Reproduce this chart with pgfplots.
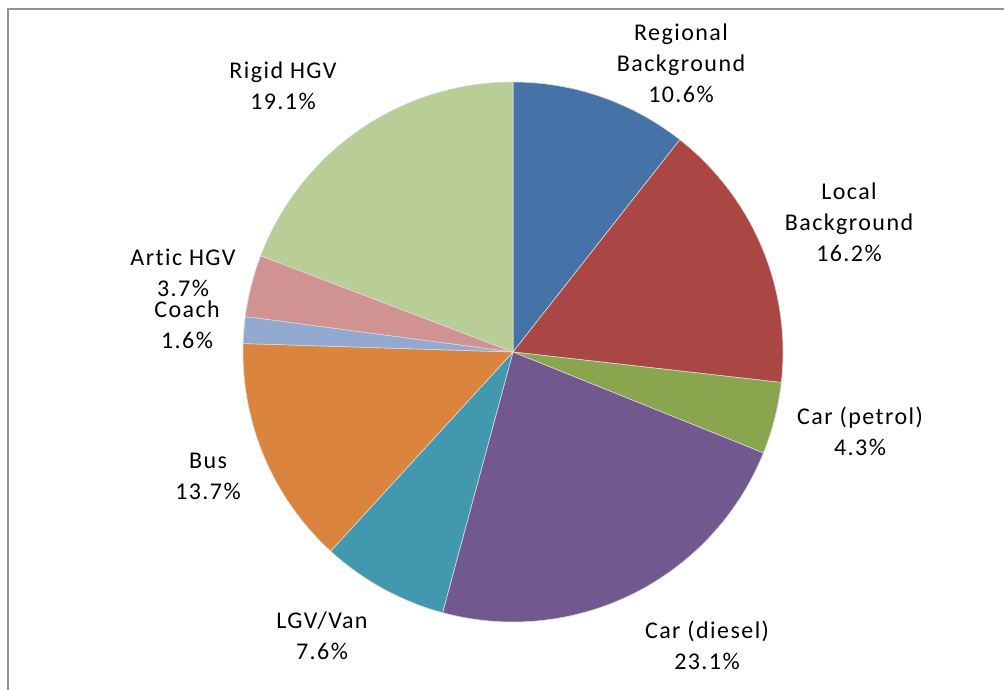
\documentclass[border=0pt]{standalone}
\usepackage{fontspec}
\setmainfont{Carlito}[LetterSpace=6, RawFeature={-liga}]
\usepackage{pgfplots}
\pgfplotsset{compat=1.18}

\definecolor{c1}{HTML}{4572A7}
\definecolor{c2}{HTML}{AA4643}
\definecolor{c3}{HTML}{89A54E}
\definecolor{c4}{HTML}{71588F}
\definecolor{c5}{HTML}{4198AF}
\definecolor{c6}{HTML}{DB843D}
\definecolor{c7}{HTML}{93A9CF}
\definecolor{c8}{HTML}{D19392}
\definecolor{c9}{HTML}{B9CD96}

% pie slice: cumulative start %, cumulative end %, colour
% (pixel-style axis: centre 513,337, radius 270)
\newcommand{\slice}[3]{%
  \addplot[fill=#3, draw=white!85!black, line width=0.3pt,
    domain={90-3.6*#2}:{90-3.6*#1}, samples=90, variable=\t]
    ({513+270*cos(\t)}, {337+270*sin(\t)}) -- (axis cs:513,337) -- cycle;}

\newcommand{\lab}{\fontsize{12}{15.5}\selectfont}

\begin{document}
\begin{tikzpicture}
  \begin{axis}[
    name=ax,
    width=502pt, height=344.5pt,
    scale only axis,
    xmin=0, xmax=1004, ymin=0, ymax=689,
    axis lines=none,
    clip=false,
  ]
    % frame
    \draw[gray!85, line width=1pt] (axis cs:8,-10) -- (axis cs:8,680) -- (axis cs:1015,680);

    % slices, clockwise from the top
    \slice{0}{10.6}{c1}    % Regional Background
    \slice{10.6}{26.8}{c2} % Local Background
    \slice{26.8}{31.1}{c3} % Car (petrol)
    \slice{31.1}{54.2}{c4} % Car (diesel)
    \slice{54.2}{61.8}{c5} % LGV/Van
    \slice{61.8}{75.5}{c6} % Bus
    \slice{75.5}{77.1}{c7} % Coach
    \slice{77.1}{80.8}{c8} % Artic HGV
    \slice{80.8}{100}{c9}  % Rigid HGV

    \begin{scope}[every node/.style={align=center, font=\lab, inner sep=0pt}]
      \node at (axis cs:681,626) {Regional\\Background\\10.6\%};
      \node at (axis cs:849,467) {Local\\Background\\16.2\%};
      \node at (axis cs:860,258) {Car (petrol)\\4.3\%};
      \node at (axis cs:707,44) {Car (diesel)\\23.1\%};
      \node at (axis cs:322,53) {LGV/Van\\7.6\%};
      \node at (axis cs:208,213) {Bus\\13.7\%};
      \node at (axis cs:187,364) {Coach\\1.6\%};
      \node at (axis cs:183,416) {Artic HGV\\3.7\%};
      \node at (axis cs:283,603) {Rigid HGV\\19.1\%};
    \end{scope}
  \end{axis}
  \pgfresetboundingbox
  \path (ax.south west) rectangle (ax.north east);
\end{tikzpicture}
\end{document}
